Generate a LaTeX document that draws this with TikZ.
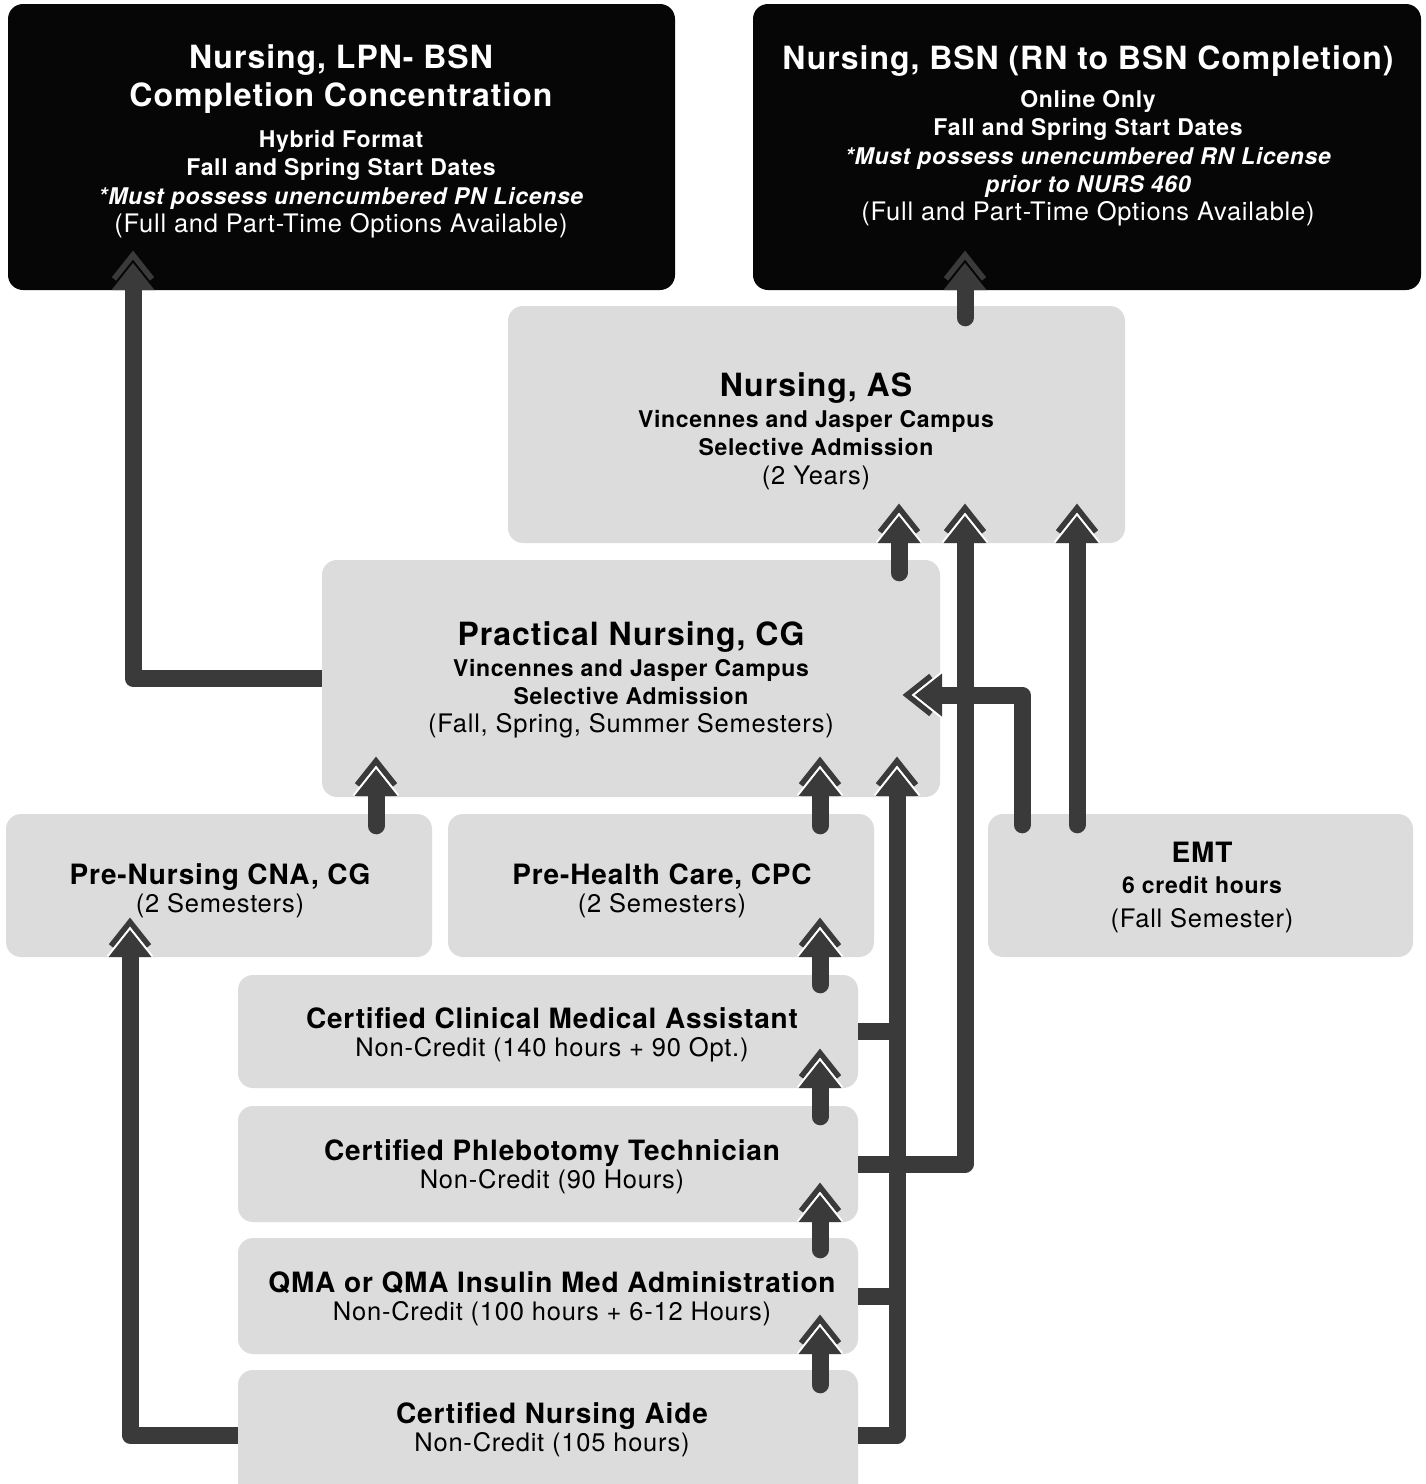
\documentclass[tikz,border=0pt]{standalone}
\usepackage{fontspec}
\setmainfont{TeX Gyre Heros}[LetterSpace=3]
\usetikzlibrary{calc}
\definecolor{boxgray}{HTML}{DCDCDC}
\definecolor{conncol}{HTML}{3A3A3A}
\definecolor{boxblack}{HTML}{060606}
\newcommand\ftitle{\fontsize{32}{36}\selectfont\bfseries}
\newcommand\fhead{\fontsize{28}{32}\selectfont\bfseries}
\newcommand\fsub{\fontsize{23}{27}\selectfont\bfseries}
\newcommand\fsubit{\fontsize{23}{27}\selectfont\bfseries\itshape}
\newcommand\freg{\fontsize{25.5}{29}\selectfont}
\tikzset{
  gbox/.style={fill=boxgray, rounded corners=15, inner sep=0, draw=none},
  kbox/.style={fill=boxblack, rounded corners=15, inner sep=0, draw=none},
  txt/.style={anchor=base, inner sep=0},
  wtxt/.style={anchor=base, inner sep=0, text=white},
  conn/.style={draw=conncol, line width=17, line cap=round, line join=round},
  connb/.style={draw=conncol, line width=17, line cap=butt, line join=round},
  headup/.pic={
    \draw[conncol, line width=5.5, line join=miter] (-19,27.9) -- (0,4) -- (19,27.9);
    \draw[white, line width=4] (-21.5,39) -- (0,12) -- (21.5,39);
    \fill[conncol] (-21.5,39) -- (0,12) -- (21.5,39) -- cycle;
  },
  headupdark/.pic={
    \draw[conncol, line width=5.5, line join=miter] (-19,27.9) -- (0,4) -- (19,27.9);
    \fill[conncol] (-21.5,39) -- (0,12) -- (21.5,39) -- cycle;
  },
}
\begin{document}
\begin{tikzpicture}[x=1pt,y=-1pt]
\fill[white] (0,0) rectangle (1426,1484);
\useasboundingbox (0,0) rectangle (1426,1484);

% boxes
\node[kbox, minimum width=667, minimum height=286] (lpn) at (341.5,147) {};
\node[kbox, minimum width=668, minimum height=286] (bsn) at (1087,147) {};
\node[gbox, minimum width=617, minimum height=237] (as) at (816.5,424.5) {};
\node[gbox, minimum width=618, minimum height=237] (pn) at (631,678.5) {};
\node[gbox, minimum width=426, minimum height=143] (precna) at (219,885.5) {};
\node[gbox, minimum width=426, minimum height=143] (prehc) at (661,885.5) {};
\node[gbox, minimum width=425, minimum height=143] (emt) at (1200.5,885.5) {};
\node[gbox, minimum width=620, minimum height=113] (ccma) at (548,1031.5) {};
\node[gbox, minimum width=620, minimum height=116] (cpt) at (548,1164) {};
\node[gbox, minimum width=620, minimum height=116] (qma) at (548,1296) {};
\node[gbox, minimum width=620, minimum height=130] (cna) at (548,1435) {};

% texts
\node[wtxt] (lpn1) at (341,68) {\ftitle Nursing, LPN- BSN};
\node[wtxt] (lpn2) at (341,106) {\ftitle Completion Concentration};
\node[wtxt] (lpn3) at (341,147) {\fsub Hybrid Format};
\node[wtxt] (lpn4) at (341,175) {\fsub Fall and Spring Start Dates};
\node[wtxt] (lpn5) at (341,204) {\fsubit *Must possess unencumbered PN License};
\node[wtxt] (lpn6) at (341,232) {\freg (Full and Part-Time Options Available)};

\node[wtxt] (bsn1) at (1088,69) {\ftitle Nursing, BSN (RN to BSN Completion)};
\node[wtxt] (bsn2) at (1088,107) {\fsub Online Only};
\node[wtxt] (bsn3) at (1088,135) {\fsub Fall and Spring Start Dates};
\node[wtxt] (bsn4) at (1088,164) {\fsubit *Must possess unencumbered RN License};
\node[wtxt] (bsn5) at (1088,192) {\fsubit prior to NURS 460};
\node[wtxt] (bsn6) at (1088,220) {\freg (Full and Part-Time Options Available)};

\node[txt] (as1) at (816,396) {\ftitle Nursing, AS};
\node[txt] (as2) at (816,427) {\fsub Vincennes and Jasper Campus};
\node[txt] (as3) at (816,455) {\fsub Selective Admission};
\node[txt] (as4) at (816,484) {\freg (2 Years)};

\node[txt] (pn1) at (631,645) {\ftitle Practical Nursing, CG};
\node[txt] (pn2) at (631,676) {\fsub Vincennes and Jasper Campus};
\node[txt] (pn3) at (631,704) {\fsub Selective Admission};
\node[txt] (pn4) at (631,732) {\freg (Fall, Spring, Summer Semesters)};

\node[txt] (precna1) at (220,884) {\fhead Pre-Nursing CNA, CG};
\node[txt] (precna2) at (220,912) {\freg (2 Semesters)};
\node[txt] (prehc1) at (662,884) {\fhead Pre-Health Care, CPC};
\node[txt] (prehc2) at (662,912) {\freg (2 Semesters)};

\node[txt] (emt1) at (1202,862) {\fhead EMT};
\node[txt] (emt2) at (1202,893) {\fsub 6 credit hours};
\node[txt] (emt3) at (1202,927) {\freg (Fall Semester)};

\node[txt] (ccma1) at (552,1028) {\fhead Certified Clinical Medical Assistant};
\node[txt] (ccma2) at (552,1056) {\freg Non-Credit (140 hours + 90 Opt.)};
\node[txt] (cpt1) at (552,1160) {\fhead Certified Phlebotomy Technician};
\node[txt] (cpt2) at (552,1188) {\freg Non-Credit (90 Hours)};
\node[txt] (qma1) at (552,1292) {\fhead QMA or QMA Insulin Med Administration};
\node[txt] (qma2) at (552,1320) {\freg Non-Credit (100 hours + 6-12 Hours)};
\node[txt] (cna1) at (552,1423) {\fhead Certified Nursing Aide};
\node[txt] (cna2) at (552,1451) {\freg Non-Credit (105 hours)};

% arrow tips
\coordinate (t1) at (133,251);
\coordinate (t2) at (965,251);
\coordinate (t3) at (899,504);
\coordinate (t4) at (965,504);
\coordinate (t5) at (1077,504);
\coordinate (t6) at (903,695);
\coordinate (t7) at (897,757);
\coordinate (t8) at (820,757);
\coordinate (t9) at (376,757);
\coordinate (t10) at (820,918);
\coordinate (t11) at (820,1049);
\coordinate (t12) at (820,1183);
\coordinate (t13) at (820,1315);
\coordinate (t14) at (130,918);
\coordinate (e6) at (1022,0);

% connectors
\draw[connb] (pn.west) -| ($(t1)+(0,38)$);
\draw[conn] ($(as.north -| t2)+(0,12)$) -- ($(t2)+(0,38)$);
\draw[conn] ($(pn.north -| t3)+(0,13)$) -- ($(t3)+(0,38)$);
\draw[connb] (cpt.east) -| ($(t4)+(0,38)$);
\draw[conn] ($(emt.north -| t5)+(0,11)$) -- ($(t5)+(0,38)$);
\draw[conn] ($(emt.north -| e6)+(0,11)$) |- ($(t6)+(38,0)$);
\draw[connb] (cna.east) -| ($(t7)+(0,38)$);
\draw[connb] (ccma.east) -- (ccma.east -| t7);
\draw[connb] (qma.east) -- (qma.east -| t7);
\draw[conn] ($(prehc.north -| t8)+(0,12)$) -- ($(t8)+(0,38)$);
\draw[conn] ($(precna.north -| t9)+(0,12)$) -- ($(t9)+(0,38)$);
\draw[conn] ($(ccma.north -| t10)+(0,10)$) -- ($(t10)+(0,38)$);
\draw[conn] ($(cpt.north -| t11)+(0,11)$) -- ($(t11)+(0,38)$);
\draw[conn] ($(qma.north -| t12)+(0,12)$) -- ($(t12)+(0,38)$);
\draw[conn] ($(cna.north -| t13)+(0,15)$) -- ($(t13)+(0,38)$);
\draw[connb] (cna.west) -| ($(t14)+(0,38)$);

% arrow heads
\pic at (t1) {headupdark};
\pic at (t2) {headupdark};
\pic at (t3) {headup};
\pic at (t4) {headup};
\pic at (t5) {headup};
\pic[rotate=90] at (t6) {headup};
\pic at (t7) {headup};
\pic at (t8) {headup};
\pic at (t9) {headup};
\pic at (t10) {headup};
\pic at (t11) {headup};
\pic at (t12) {headup};
\pic at (t13) {headup};
\pic at (t14) {headup};
\end{tikzpicture}
\end{document}
